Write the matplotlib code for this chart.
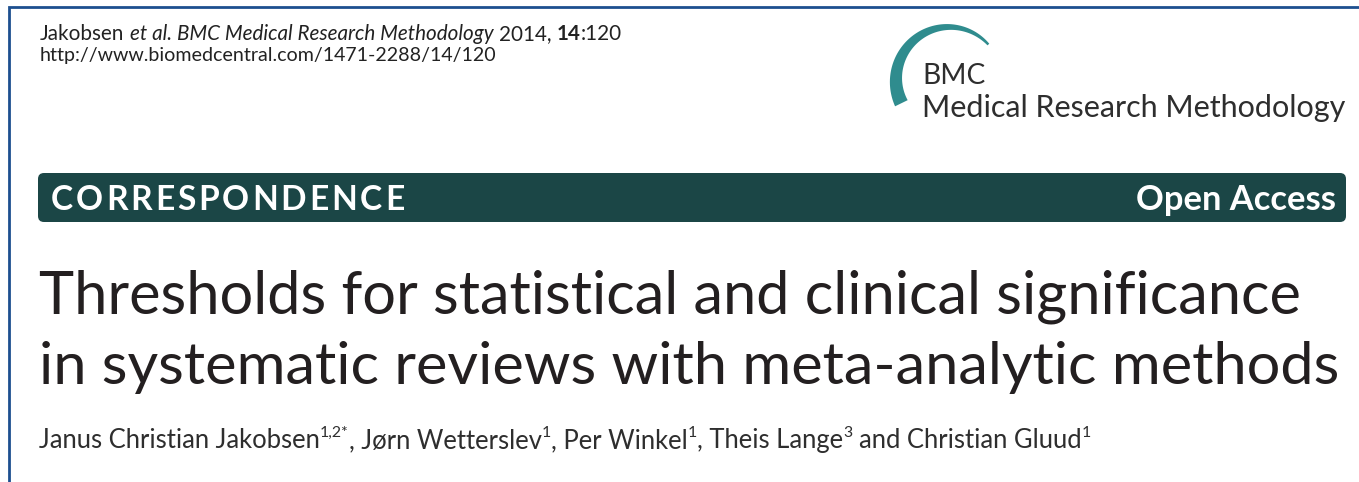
import matplotlib
matplotlib.use('Agg')
import matplotlib.pyplot as plt
import numpy as np
from matplotlib.patches import FancyBboxPatch, Polygon

# ---- content ----
header_runs = [("Jakobsen ", {}), ("et al. BMC Medical Research Methodology", {"style": "italic"}),
               (" 2014, ", {}), ("14", {"weight": "bold"}), (":120", {})]
url_text = "http://www.biomedcentral.com/1471-2288/14/120"
journal_top = "BMC"
journal_name = "Medical Research Methodology"
section_label = "CORRESPONDENCE"
access_label = "Open Access"
title_lines = ["Thresholds for statistical and clinical significance",
               "in systematic reviews with meta-analytic methods"]
author_runs = [("Janus Christian Jakobsen", {}), ("1,2*", {"sup": True}),
               (", Jørn Wetterslev", {}), ("1", {"sup": True}),
               (", Per Winkel", {}), ("1", {"sup": True}),
               (", Theis Lange", {}), ("3", {"sup": True}),
               (" and Christian Gluud", {}), ("1", {"sup": True})]

W, H = 1359, 482
fig = plt.figure(figsize=(W / 100, H / 100), dpi=100)
ax = fig.add_axes([0, 0, 1, 1])
ax.set_xlim(0, W)
ax.set_ylim(H, 0)
ax.axis('off')
renderer = fig.canvas.get_renderer()

FONT = ['Lato', 'DejaVu Sans']


def _w(t):
    return t.get_window_extent(renderer).width


def space_width(size, st):
    a = ax.text(0, 0, "nn", fontsize=size, family=FONT, weight=st.get('weight', 'normal'),
                style=st.get('style', 'normal'))
    b = ax.text(0, 0, "n n", fontsize=size, family=FONT, weight=st.get('weight', 'normal'),
                style=st.get('style', 'normal'))
    d = _w(b) - _w(a)
    a.remove(); b.remove()
    return d


def draw_runs(runs, x, y, size, color, tracking=0.0):
    arts = []
    cx = x
    for txt, st in runs:
        sup = st.get('sup', False)
        fs = size * 0.62 if sup else size
        dy = -size * 0.42 * 100 / 72 if sup else 0
        sw = space_width(fs, st)
        lead = len(txt) - len(txt.lstrip(' '))
        trail = len(txt) - len(txt.rstrip(' '))
        core = txt.strip(' ')
        cx += lead * sw
        pieces = list(core) if tracking else [core]
        for i, p in enumerate(pieces):
            t = ax.text(cx, y + dy, p, fontsize=fs, family=FONT,
                        weight=st.get('weight', 'normal'), style=st.get('style', 'normal'),
                        color=color, va='baseline', ha='left')
            cx += _w(t)
            if tracking and i < len(pieces) - 1:
                cx += tracking * size
            arts.append(t)
        cx += trail * sw
    return arts, cx - x


def fit_runs(runs, x, y, width, color, size0=20, tracking=0.0, align='left'):
    size = size0
    for _ in range(3):
        arts, w = draw_runs(runs, 0, -1000, size, color, tracking)
        for a in arts:
            a.remove()
        size = size * width / w
    x0 = x if align == 'left' else x - width
    draw_runs(runs, x0, y, size, color, tracking)
    return size


# ---- border ----
border_color = '#1d4f8f'
ax.plot([9, 9, W + 5], [H + 5, 7, 7], color=border_color, lw=2.0, solid_joinstyle='miter',
        solid_capstyle='butt')

# ---- header ----
hdr_color = '#222222'
fit_runs(header_runs, 40, 40, 582, hdr_color, size0=12)
fit_runs([(url_text, {})], 40, 61, 457, hdr_color, size0=12)

# ---- logo arc ----
cx, cy, r = 949, 80, 53
th = np.radians(np.linspace(206, 42, 120))
half = np.linspace(7.0, 1.2, 120)
outer = np.column_stack([cx + (r + half) * np.cos(th), cy - (r + half) * np.sin(th)])
inner = np.column_stack([cx + (r - half) * np.cos(th), cy - (r - half) * np.sin(th)])
ax.add_patch(Polygon(np.vstack([outer, inner[::-1]]), closed=True, color='#2f8c8e', lw=0))

logo_color = '#2e2e2e'
fit_runs([(journal_top, {})], 922, 84, 63, logo_color, size0=20)
fit_runs([(journal_name, {})], 922, 117, 423, logo_color, size0=20)

# ---- band ----
band_color = '#1b4646'
ax.add_patch(FancyBboxPatch((38, 173), 1308, 49, boxstyle="round,pad=0,rounding_size=6",
                            fc=band_color, ec='none'))
fit_runs([(section_label, {"weight": "bold"})], 51, 210, 354, 'white', size0=18, tracking=0.12)
fit_runs([(access_label, {"weight": "bold"})], 1336, 210, 200, 'white', size0=18, align='right')

# ---- title ----
title_color = '#231f20'
fit_runs([(title_lines[0], {})], 39, 313, 1262, title_color, size0=44)
fit_runs([(title_lines[1], {})], 39, 384, 1300, title_color, size0=44)

# ---- authors ----
fit_runs(author_runs, 39, 448, 1052, '#2e2e2e', size0=14)

fig.savefig('out.png', dpi=100, facecolor='white')
